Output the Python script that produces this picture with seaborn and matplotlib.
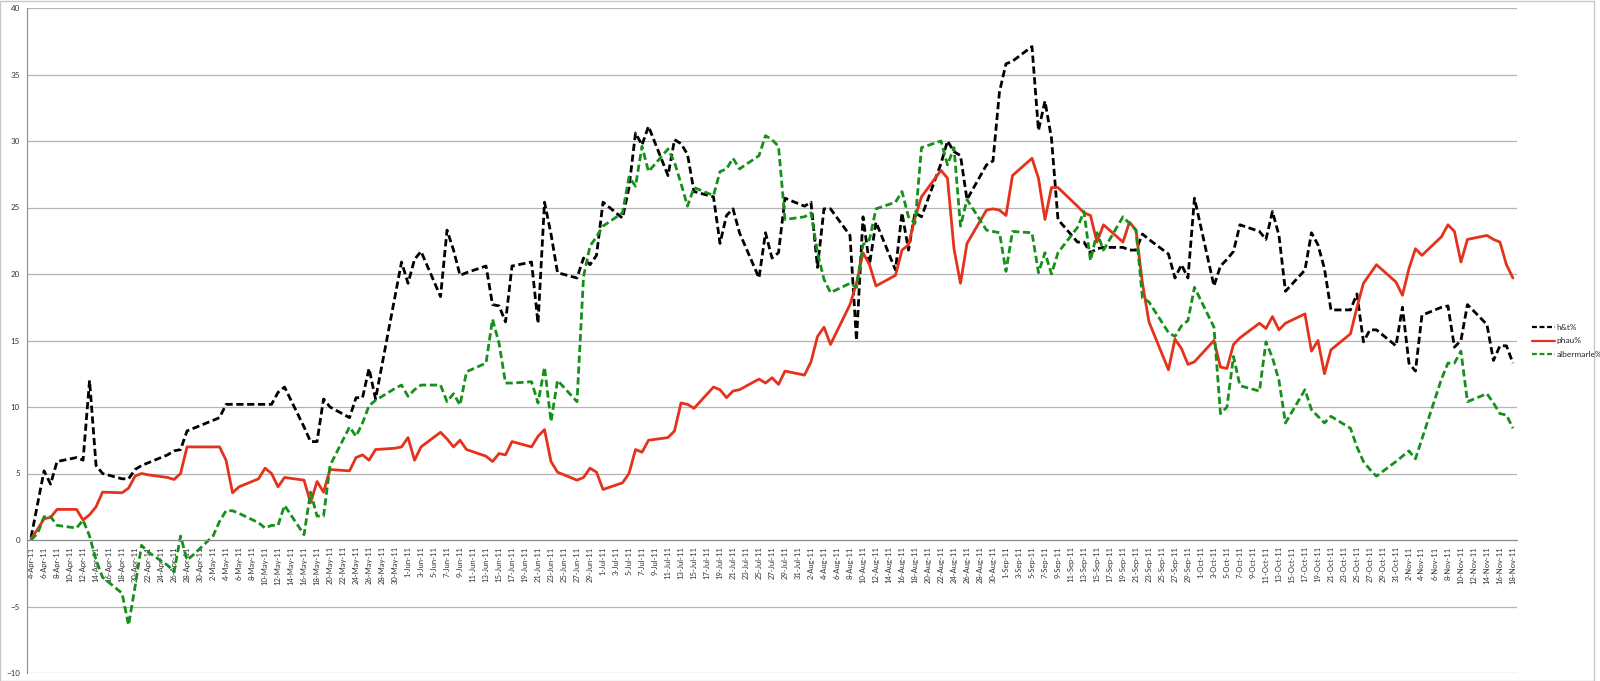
import matplotlib
matplotlib.use("Agg")
import numpy as np
import pandas as pd
import seaborn as sns
from matplotlib import pyplot as plt
from matplotlib.lines import Line2D
from matplotlib.patches import Rectangle

# weekdays 4-Apr-11 .. 18-Nov-11, one row per week below
dates = pd.bdate_range("2011-04-04", "2011-11-18")

ht_pct = [
    0.2, 2.7, 5.2, 4.2, 5.9,
    6.2, 6.0, 12.0, 5.6, 5.0,
    4.6, 4.6, 5.3, 5.6, 5.8,
    6.4, 6.7, 6.8, 8.2, 8.4,
    9.0, 9.2, 10.2, 10.2, 10.2,
    10.2, 10.2, 10.2, 11.1, 11.5,
    8.5, 7.4, 7.4, 10.6, 10.0,
    9.2, 10.7, 10.7, 12.9, 10.6,
    18.3, 20.9, 19.3, 21.1, 21.7,
    18.3, 23.3, 21.8, 19.9, 20.1,
    20.6, 17.7, 17.6, 16.4, 20.6,
    20.9, 16.3, 25.4, 23.0, 20.1,
    19.7, 21.2, 20.7, 21.4, 25.4,
    24.2, 26.5, 30.6, 29.7, 31.1,
    27.4, 30.1, 29.8, 29.0, 26.2,
    25.8, 22.3, 24.4, 24.9, 23.1,
    19.7, 23.1, 21.2, 21.6, 25.7,
    25.1, 25.4, 20.5, 24.9, 24.9,
    22.9, 15.0, 24.3, 20.7, 23.9,
    20.3, 24.6, 21.8, 24.6, 24.3,
    28.3, 30.0, 29.2, 28.9, 25.6,
    28.2, 28.5, 33.7, 35.8, 36.0,
    37.1, 30.8, 33.0, 30.2, 24.1,
    22.4, 22.4, 21.6, 21.9, 22.0,
    22.0, 21.8, 21.8, 23.0, 22.6,
    21.5, 19.7, 20.7, 19.7, 25.7,
    19.1, 20.6, 21.1, 21.7, 23.7,
    23.2, 22.6, 24.7, 22.9, 18.7,
    20.3, 23.1, 22.2, 20.4, 17.3,
    17.3, 18.5, 14.9, 15.8, 15.8,
    14.6, 17.5, 13.3, 12.7, 16.9,
    17.5, 17.6, 14.5, 15.0, 17.7,
    16.2, 13.5, 14.6, 14.6, 13.3,
]

phau_pct = [
    0.1, 0.8, 1.6, 1.7, 2.3,
    2.3, 1.5, 1.9, 2.5, 3.6,
    3.55, 3.9, 4.8, 5.0, 4.9,
    4.7, 4.55, 5.0, 7.0, 7.0,
    7.0, 7.0, 6.0, 3.55, 4.0,
    4.6, 5.4, 5.0, 4.0, 4.7,
    4.5, 2.8, 4.4, 3.6, 5.3,
    5.2, 6.2, 6.4, 6.0, 6.8,
    6.9, 7.0, 7.7, 6.0, 7.0,
    8.1, 7.6, 7.0, 7.5, 6.8,
    6.3, 5.9, 6.5, 6.4, 7.4,
    7.0, 7.8, 8.3, 5.9, 5.1,
    4.5, 4.7, 5.4, 5.1, 3.8,
    4.3, 5.0, 6.8, 6.6, 7.5,
    7.7, 8.2, 10.3, 10.2, 9.9,
    11.5, 11.3, 10.7, 11.2, 11.3,
    12.1, 11.8, 12.2, 11.7, 12.7,
    12.4, 13.4, 15.3, 16.0, 14.7,
    17.7, 19.3, 21.6, 20.7, 19.1,
    19.9, 21.8, 22.2, 24.2, 25.8,
    27.8, 27.2, 21.9, 19.3, 22.3,
    24.8, 24.9, 24.8, 24.4, 27.4,
    28.7, 27.2, 24.1, 26.5, 26.5,
    25.1, 24.6, 24.4, 22.4, 23.7,
    22.4, 23.9, 23.3, 19.3, 16.4,
    12.8, 15.1, 14.4, 13.2, 13.4,
    15.0, 13.0, 12.9, 14.7, 15.2,
    16.3, 15.9, 16.8, 15.8, 16.3,
    17.0, 14.2, 15.0, 12.5, 14.3,
    15.5, 17.5, 19.3, 20.0, 20.7,
    19.4, 18.4, 20.4, 21.9, 21.4,
    22.8, 23.7, 23.2, 20.9, 22.6,
    22.9, 22.6, 22.4, 20.7, 19.7,
]

albermarle_pct = [
    0.0, 0.5, 1.75, 1.75, 1.1,
    0.9, 1.5, 0.3, -1.5, -2.8,
    -4.0, -6.4, -3.5, -0.4, -0.9,
    -1.9, -2.4, 0.3, -1.5, -1.1,
    0.3, 1.4, 2.2, 2.2, 2.0,
    1.3, 0.9, 1.1, 1.1, 2.6,
    0.4, 3.6, 1.8, 1.8, 5.6,
    8.5, 7.8, 8.8, 10.1, 10.5,
    11.4, 11.65, 10.8, 11.3, 11.65,
    11.65, 10.4, 11.0, 10.15, 12.65,
    13.3, 16.6, 14.8, 11.8, 11.8,
    11.9, 10.3, 13.0, 8.9, 12.0,
    10.4, 19.8, 22.1, 22.8, 23.6,
    24.6, 27.3, 26.6, 29.6, 27.7,
    29.4, 28.4, 26.8, 25.1, 26.5,
    25.9, 27.7, 27.9, 28.7, 27.9,
    28.9, 30.4, 30.1, 29.6, 24.1,
    24.3, 24.6, 21.6, 19.6, 18.6,
    19.3, 19.0, 22.2, 22.6, 24.9,
    25.4, 26.2, 24.3, 23.8, 29.5,
    30.0, 28.2, 29.5, 23.6, 25.6,
    23.3, 23.2, 23.1, 20.2, 23.2,
    23.1, 20.1, 21.6, 20.0, 21.6,
    23.5, 24.7, 21.0, 23.1, 21.8,
    24.3, 23.8, 23.3, 18.2, 17.9,
    15.6, 15.3, 16.1, 16.5, 19.0,
    16.0, 9.5, 10.0, 13.8, 11.6,
    11.2, 14.9, 13.7, 12.0, 8.8,
    11.3, 9.8, 9.3, 8.8, 9.3,
    8.4, 7.0, 5.9, 5.3, 4.8,
    5.9, 6.3, 6.7, 6.1, 7.6,
    12.1, 13.3, 13.3, 14.2, 10.4,
    11.0, 10.3, 9.5, 9.4, 8.4,
]

series_names = ["h&t%", "phau%", "albermarle%"]
colors = {"h&t%": "#000000", "phau%": "#e5321c", "albermarle%": "#16901a"}
dash_styles = {"h&t%": (2.6, 1.3), "phau%": "", "albermarle%": (2.6, 1.3)}

df = pd.DataFrame({"date": dates, "h&t%": ht_pct, "phau%": phau_pct,
                   "albermarle%": albermarle_pct})
long_df = df.melt(id_vars="date", var_name="series", value_name="value")

sns.set_style("white")
plt.rcParams["font.family"] = ["Lato", "DejaVu Sans"]

fig = plt.figure(figsize=(16, 6.81), dpi=100)
ax = fig.add_axes([27 / 1600, 8 / 681, 1490 / 1600, 665 / 681])

sns.lineplot(data=long_df, x="date", y="value", hue="series", style="series",
             hue_order=series_names, style_order=series_names,
             palette=colors, dashes=dash_styles, estimator=None,
             linewidth=2.0, legend=False, ax=ax)

ax.set_ylim(-10, 40)
ax.set_yticks(range(-10, 41, 5))
ax.yaxis.grid(True, color="#b5b5b5", linewidth=0.9)
ax.xaxis.grid(False)
ax.set_axisbelow(True)
ax.set_xlabel("")
ax.set_ylabel("")

ax.set_xlim(dates[0] - pd.Timedelta(hours=15), dates[-1] + pd.Timedelta(hours=15))
ticks = pd.date_range("2011-04-04", "2011-11-18", freq="2D")
ax.set_xticks(ticks, [f"{d.day}-{d:%b-%y}" for d in ticks])

for side in ["top", "right"]:
    ax.spines[side].set_visible(False)
ax.spines["bottom"].set_position(("data", 0))
ax.spines["bottom"].set_color("#8c8c8c")
ax.spines["left"].set_color("#8c8c8c")
ax.spines["bottom"].set_linewidth(0.8)
ax.spines["left"].set_linewidth(0.8)

ax.tick_params(axis="x", direction="out", length=3, width=0.6, color="#8c8c8c",
               labelsize=5.5, labelcolor="#333333", pad=1.5, labelrotation=90)
ax.tick_params(axis="y", length=0, labelsize=5.8, labelcolor="#333333", pad=5)

handles = [Line2D([], [], color=colors[n], linewidth=1.6,
                  linestyle="-" if dash_styles[n] == "" else (0, (2.2, 1.2)))
           for n in series_names]
fig.legend(handles, series_names, loc="center left",
           bbox_to_anchor=(1524 / 1600, 1 - 341 / 681), frameon=False,
           fontsize=6, handlelength=2.8, handletextpad=0.2, labelspacing=0.75)

fig.patches.append(Rectangle((0, 0), 0.996, 0.999, transform=fig.transFigure,
                             fill=False, edgecolor="#c8c8c8", linewidth=1))

fig.savefig("out.png", dpi=100)
plt.close(fig)
